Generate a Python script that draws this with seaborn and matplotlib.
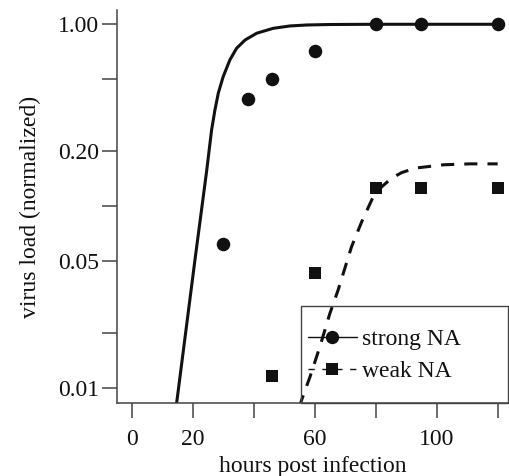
import numpy as np
import pandas as pd
import matplotlib
matplotlib.use("Agg")
import matplotlib.pyplot as plt
from matplotlib.lines import Line2D
from matplotlib.ticker import NullLocator
import seaborn as sns

# measured points
hours_strong = [30, 38, 46, 60, 80, 95, 120]
load_strong = [0.062, 0.39, 0.50, 0.71, 1.0, 1.0, 1.0]
hours_weak = [46, 60, 80, 95, 120]
load_weak = [0.0117, 0.043, 0.126, 0.126, 0.126]

# fitted curves
fit_strong_hours = [14.0, 14.75, 20.75, 24.6, 26.2, 27.3, 28.4, 30.0, 32.2, 34.4, 37.2,
                    41.0, 46.4, 51.9, 57.4, 65, 80, 120]
fit_strong_load = [0.0068, 0.0083, 0.0507, 0.157, 0.262, 0.338, 0.418, 0.515, 0.637, 0.738,
                   0.820, 0.893, 0.950, 0.979, 0.991, 0.997, 1.0, 1.0]
fit_weak_hours = [55, 55.7, 58.5, 61.7, 65.0, 67.7, 72.1, 75.4, 79.0, 82.0, 85.2, 88.5,
                  92.9, 102.2, 110.9, 120]
fit_weak_load = [0.0078, 0.0086, 0.0116, 0.0169, 0.0258, 0.0347, 0.060, 0.082, 0.111, 0.128,
                 0.1425, 0.153, 0.162, 0.169, 0.171, 0.171]

x_ticks = [0, 20, 40, 60, 80, 100, 120]
x_labels = ["0", "20", "", "60", "", "100", ""]
y_ticks = [0.01, 0.02, 0.05, 0.1, 0.2, 0.5, 1.0]
y_labels = ["0.01", "", "0.05", "", "0.20", "", "1.00"]

sns.set_theme(style="ticks")
plt.rcParams['font.family'] = ['Liberation Serif', 'DejaVu Serif']
plt.rcParams['font.size'] = 17

ink = "#111111"
axis_col = "#444444"

fig = plt.figure(figsize=(5.09, 4.76), dpi=100)
ax = fig.add_axes([0.2299, 0.1534, 0.770, 0.8256])

strong_fit = pd.DataFrame({"h": fit_strong_hours, "v": fit_strong_load})
weak_fit = pd.DataFrame({"h": fit_weak_hours, "v": fit_weak_load})
sns.lineplot(data=strong_fit, x="h", y="v", ax=ax, color=ink, lw=2.2, sort=False)
sns.lineplot(data=weak_fit, x="h", y="v", ax=ax, color=ink, lw=2.2, sort=False)
ax.lines[-1].set_dashes([4.3, 3.3])

sns.scatterplot(x=hours_strong, y=load_strong, ax=ax, marker="o", s=95,
                color=ink, linewidth=0, zorder=5)
sns.scatterplot(x=hours_weak, y=load_weak, ax=ax, marker="s", s=70,
                color=ink, linewidth=0, zorder=5)

ax.set_yscale("log")
ax.set_xlim(-4.8, 123.7)
ax.set_ylim(0.0083, 1.198)
ax.set_xticks(x_ticks)
ax.set_xticklabels(x_labels)
ax.set_yticks(y_ticks)
ax.set_yticklabels(y_labels)
ax.yaxis.set_minor_locator(NullLocator())
ax.xaxis.set_minor_locator(NullLocator())

sns.despine(ax=ax)
for s in ["left", "bottom"]:
    ax.spines[s].set_color(axis_col)
    ax.spines[s].set_linewidth(1.1)
ax.tick_params(axis="both", length=11, width=1.1, color=axis_col,
               labelsize=17, labelcolor=ink)
ax.tick_params(axis="y", pad=2)
ax.tick_params(axis="x", pad=8)

ax.set_xlabel("hours post infection", fontsize=17, color=ink, labelpad=4)
ax.set_ylabel("virus load (normalized)", fontsize=17, color=ink, labelpad=12)

handles = [
    Line2D([], [], color=ink, lw=1.0, marker="o", markersize=9.6, markeredgewidth=0),
    Line2D([], [], color=ink, lw=1.0, ls=(0, (4.5, 5.5)), marker="s", markersize=8.4,
           markeredgewidth=0),
]
# blank title gives the extra room above the rows
leg = ax.legend(handles, ["strong NA", "weak NA"], loc="lower left",
                bbox_to_anchor=(0.469, 0.0, 0.528, 0.25), mode="expand",
                borderaxespad=0, fontsize=17, handlelength=2.08, handletextpad=0.21,
                borderpad=0.3, labelspacing=-0.377, handleheight=2.29,
                title=" ", title_fontsize=16,
                fancybox=False, framealpha=1, facecolor="none", edgecolor=axis_col)
leg.get_frame().set_linewidth(1.0)
for t in leg.get_texts():
    t.set_color(ink)
    t.set_y(6)

fig.savefig("out.png", dpi=100)
